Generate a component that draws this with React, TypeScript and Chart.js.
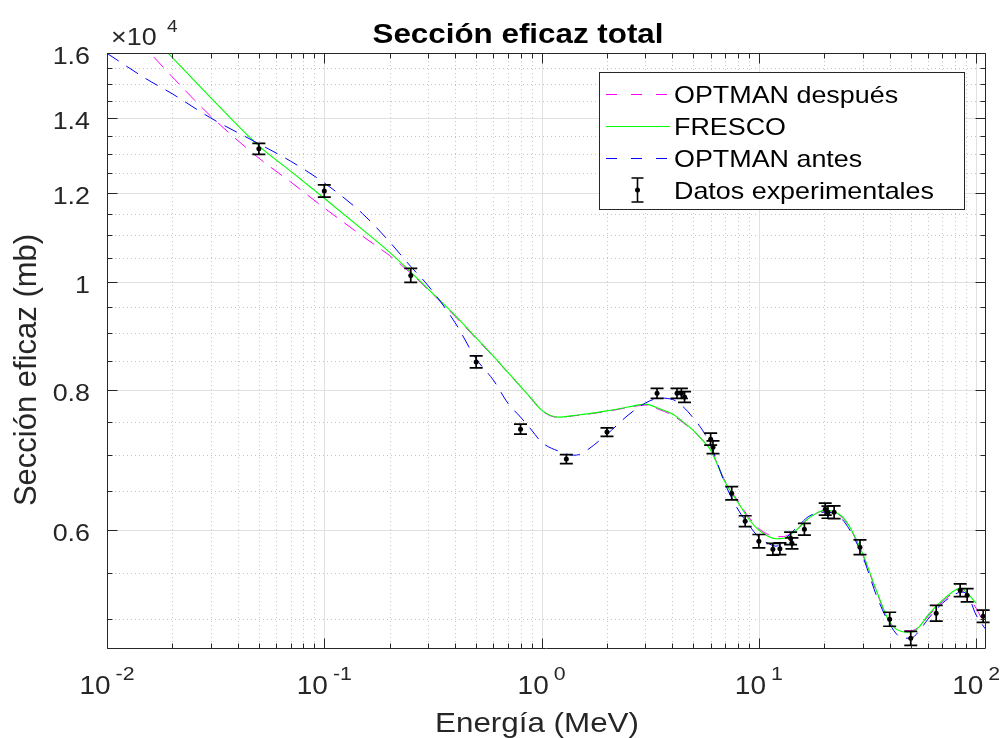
import React, { useEffect, useRef } from "react";
import { Chart, registerables } from "chart.js";

Chart.register(...registerables);

// ---------------- data ----------------
const energyModel = [
  0.01, 0.015, 0.02, 0.03, 0.05, 0.07, 0.1, 0.15, 0.2, 0.25, 0.3, 0.4, 0.5, 0.6, 0.7, 0.8, 0.9, 1.0, 1.2, 1.4,
  1.5, 2, 2.5, 3, 3.5, 4, 4.5, 5, 5.5, 6, 7, 8, 9, 10, 11, 12, 13, 15, 17, 20, 22, 25, 30, 35, 40, 45, 50, 55,
  60, 70, 80, 85, 90, 100, 110,
];

const optmanDespues = [
  17610, 16175, 15230, 14054, 12890, 12275, 11636, 10979, 10550, 10176, 9840, 9310, 8895, 8570, 8295, 8060, 7855,
  7672, 7565, 7590, 7600, 7660, 7720, 7760, 7685, 7600, 7480, 7360, 7220, 7080, 6635, 6375, 6160, 6020, 5948,
  5920, 5922, 6020, 6150, 6243, 6228, 6115, 5710, 5270, 4970, 4885, 4880, 4925, 5025, 5180, 5285, 5300, 5262,
  5110, 4930,
];

const fresco = [
  18200, 16800, 15850, 14600, 13220, 12550, 11870, 11130, 10620, 10200, 9855, 9330, 8910, 8580, 8300, 8065, 7859,
  7680, 7570, 7593, 7606, 7668, 7729, 7775, 7700, 7618, 7492, 7364, 7220, 7073, 6622, 6356, 6137, 6000, 5926,
  5896, 5902, 6012, 6150, 6252, 6237, 6125, 5721, 5282, 4966, 4875, 4864, 4925, 5038, 5196, 5304, 5326, 5282,
  5164, null,
];

const optmanAntes = [
  15990, 15190, 14710, 14000, 13276, 12810, 12250, 11500, 10850, 10316, 9922, 9192, 8533, 8168, 7790, 7570, 7370,
  7190, 7058, 7000, 7014, 7309, 7600, 7790, 7871, 7850, 7727, 7552, 7370, 7146, 6596, 6265, 6062, 5914, 5842,
  5806, 5878, 6037, 6174, 6226, 6212, 6087, 5688, 5228, 4947, 4815, 4805, 4885, 4997, 5164, 5260, 5282, 5271,
  5040, 4900,
];

const expEnergy = [
  0.05, 0.1, 0.25, 0.5, 0.8, 1.3, 2.0, 3.4, 4.2, 4.4, 4.55, 6.0, 6.15, 7.5, 8.65, 10.0, 11.6, 12.5, 14.0, 14.2,
  16.2, 20.2, 20.8, 22.2, 29.2, 40, 50, 65.5, 84.4, 90.9, 107.7,
];
const expValue = [
  13140, 12050, 10130, 8480, 7385, 6945, 7340, 7950, 7950, 7950, 7890, 7235, 7116, 6474, 6112, 5866, 5770, 5776,
  5900, 5840, 6012, 6265, 6226, 6226, 5794, 4997, 4805, 5059, 5304, 5249, 5028,
];
const expError = [
  150, 150, 145, 105, 76, 64, 63, 82, 82, 82, 86, 90, 92, 89, 69, 81, 69, 69, 75, 65, 72, 77, 77, 81, 87, 72, 69,
  81, 69, 72, 64,
];

// ---------------- axes / labels ----------------
const xDecades = [0.01, 0.1, 1, 10, 100];
const xDecadeExponents = ["-2", "-1", "0", "1", "2"];
const xMinorFactors = [2, 3, 4, 5, 6, 7, 8, 9];
const yMajorTicks = [6000, 8000, 10000, 12000, 14000, 16000];
const yMajorLabels = ["0.6", "0.8", "1", "1.2", "1.4", "1.6"];
const yMinorTicks = [
  5000, 5500, 6500, 7000, 7500, 8500, 9000, 9500, 10500, 11000, 11500, 12500, 13000, 13500, 14500, 15000, 15500,
];
const X_MIN = 0.01;
const X_MAX = 111;
const Y_MIN = 4700;
const Y_MAX = 16000;

const seriesLabels = ["OPTMAN después", "FRESCO", "OPTMAN antes", "Datos experimentales"];
const seriesColors = ["#ff00ff", "#00ff00", "#0000ff", "#000000"];
const TITLE = "Sección eficaz total";
const XLABEL = "Energía (MeV)";
const YLABEL = "Sección eficaz (mb)";
const Y_EXP_BASE = "×10";
const Y_EXP = "4";

const FONT = '"Liberation Sans", Arial, Helvetica, sans-serif';
const SX = 1.12;
const AXIS_COLOR = "#262626";
const DASH = [14, 9];

function drawText(
  ctx: CanvasRenderingContext2D,
  s: string,
  x: number,
  y: number,
  size: number,
  opts: { align?: CanvasTextAlign; weight?: string; color?: string; rot?: number; sx?: number } = {}
) {
  ctx.save();
  ctx.translate(x, y);
  if (opts.rot) ctx.rotate(opts.rot);
  ctx.scale(opts.sx ?? SX, 1);
  ctx.font = `${opts.weight || "normal"} ${size}px ${FONT}`;
  ctx.fillStyle = opts.color || AXIS_COLOR;
  ctx.textAlign = opts.align || "left";
  ctx.textBaseline = "alphabetic";
  ctx.fillText(s, 0, 0);
  ctx.restore();
}

function measure(ctx: CanvasRenderingContext2D, s: string, size: number, weight = "normal") {
  ctx.save();
  ctx.font = `${weight} ${size}px ${FONT}`;
  const w = ctx.measureText(s).width * SX;
  ctx.restore();
  return w;
}

const gridPlugin = {
  id: "matlabGrid",
  beforeDatasetsDraw(chart: any) {
    const { ctx, chartArea: a, scales } = chart;
    const xs = scales.x;
    const ys = scales.y;
    ctx.save();
    ctx.lineWidth = 1;
    // minor dotted grid
    ctx.strokeStyle = "#c4c4c4";
    ctx.setLineDash([1, 3]);
    ctx.beginPath();
    for (const d of xDecades) {
      for (const f of xMinorFactors) {
        const v = d * f;
        if (v >= X_MAX) continue;
        const px = Math.round(xs.getPixelForValue(v)) + 0.5;
        ctx.moveTo(px, a.top);
        ctx.lineTo(px, a.bottom);
      }
    }
    for (const v of yMinorTicks) {
      const py = Math.round(ys.getPixelForValue(v)) + 0.5;
      ctx.moveTo(a.left, py);
      ctx.lineTo(a.right, py);
    }
    ctx.stroke();
    // major solid grid
    ctx.setLineDash([]);
    ctx.strokeStyle = "#e1e1e1";
    ctx.beginPath();
    for (const d of xDecades) {
      const px = Math.round(xs.getPixelForValue(d)) + 0.5;
      ctx.moveTo(px, a.top);
      ctx.lineTo(px, a.bottom);
    }
    for (const v of yMajorTicks) {
      const py = Math.round(ys.getPixelForValue(v)) + 0.5;
      ctx.moveTo(a.left, py);
      ctx.lineTo(a.right, py);
    }
    ctx.stroke();
    ctx.restore();
  },
};

const overlayPlugin = {
  id: "matlabOverlay",
  afterDatasetsDraw(chart: any) {
    const { ctx, chartArea: a, scales } = chart;
    const xs = scales.x;
    const ys = scales.y;
    ctx.save();
    ctx.beginPath();
    ctx.rect(a.left - 8, a.top - 8, a.right - a.left + 16, a.bottom - a.top + 16);
    ctx.clip();
    ctx.strokeStyle = "#000";
    ctx.lineWidth = 1.7;
    ctx.beginPath();
    expEnergy.forEach((e, i) => {
      const px = xs.getPixelForValue(e);
      const p1 = ys.getPixelForValue(expValue[i] + expError[i]);
      const p2 = ys.getPixelForValue(expValue[i] - expError[i]);
      ctx.moveTo(px, p1);
      ctx.lineTo(px, p2);
      ctx.moveTo(px - 6.5, p1);
      ctx.lineTo(px + 6.5, p1);
      ctx.moveTo(px - 6.5, p2);
      ctx.lineTo(px + 6.5, p2);
    });
    ctx.stroke();
    ctx.restore();
  },
  afterDraw(chart: any) {
    const { ctx, chartArea: a, scales } = chart;
    const xs = scales.x;
    const ys = scales.y;
    ctx.save();
    // axes box
    ctx.strokeStyle = AXIS_COLOR;
    ctx.lineWidth = 1;
    const L = Math.round(a.left) + 0.5;
    const R = Math.round(a.right) - 0.5;
    const T = Math.round(a.top) + 0.5;
    const B = Math.round(a.bottom) - 0.5;
    ctx.beginPath();
    ctx.rect(L, T, R - L, B - T);
    const xTick = (v: number, len: number) => {
      const px = Math.round(xs.getPixelForValue(v)) + 0.5;
      ctx.moveTo(px, B);
      ctx.lineTo(px, B - len);
      ctx.moveTo(px, T);
      ctx.lineTo(px, T + len);
    };
    for (const d of xDecades) {
      xTick(d, 10);
      for (const f of xMinorFactors) if (d * f < X_MAX) xTick(d * f, 5);
    }
    const yTick = (v: number, len: number) => {
      const py = Math.round(ys.getPixelForValue(v)) + 0.5;
      ctx.moveTo(L, py);
      ctx.lineTo(L + len, py);
      ctx.moveTo(R, py);
      ctx.lineTo(R - len, py);
    };
    yMajorTicks.forEach((v) => yTick(v, 10));
    yMinorTicks.forEach((v) => yTick(v, 5));
    ctx.stroke();

    // y tick labels
    yMajorTicks.forEach((v, i) => {
      const py = ys.getPixelForValue(v);
      drawText(ctx, yMajorLabels[i], a.left - 17, py + 11, 24, { align: "right" });
    });
    // exponent marker
    drawText(ctx, Y_EXP_BASE, a.left + 4, 45, 24, { align: "left" });
    drawText(ctx, Y_EXP, a.left + 60, 32, 17, { align: "left" });

    // x tick labels: 10^e
    xDecades.forEach((d, i) => {
      const px = xs.getPixelForValue(d);
      const wb = measure(ctx, "10", 25);
      const we = measure(ctx, xDecadeExponents[i], 19);
      const gap = 5;
      const start = px - (wb + gap + we) / 2;
      drawText(ctx, "10", start, 694, 25);
      drawText(ctx, xDecadeExponents[i], start + wb + gap, 680, 19);
    });

    // axis labels
    drawText(ctx, XLABEL, 537, 732, 28, { align: "center" });
    drawText(ctx, YLABEL, 36, 370, 31, { align: "center", rot: -Math.PI / 2, sx: 1 });
    // title
    drawText(ctx, TITLE, 518, 43, 28, { align: "center", weight: "bold", color: "#000" });

    // legend
    const lx0 = 599.5;
    const ly0 = 72.5;
    const lx1 = 964.5;
    const ly1 = 209.5;
    ctx.fillStyle = "#fff";
    ctx.fillRect(lx0, ly0, lx1 - lx0, ly1 - ly0);
    ctx.strokeStyle = AXIS_COLOR;
    ctx.lineWidth = 1;
    ctx.strokeRect(lx0, ly0, lx1 - lx0, ly1 - ly0);
    const rows = [94, 126, 158, 190];
    const dashed = [true, false, true];
    for (let i = 0; i < 3; i++) {
      ctx.beginPath();
      ctx.strokeStyle = seriesColors[i];
      ctx.lineWidth = 1;
      ctx.setLineDash(dashed[i] ? [11, 14] : []);
      ctx.moveTo(606, rows[i] + 0.5);
      ctx.lineTo(670, rows[i] + 0.5);
      ctx.stroke();
    }
    ctx.setLineDash([]);
    const ex = 637.5;
    const ey = rows[3];
    ctx.strokeStyle = "#000";
    ctx.lineWidth = 1.6;
    ctx.beginPath();
    ctx.moveTo(ex, ey - 12);
    ctx.lineTo(ex, ey + 12);
    ctx.moveTo(ex - 6, ey - 12);
    ctx.lineTo(ex + 6, ey - 12);
    ctx.moveTo(ex - 6, ey + 12);
    ctx.lineTo(ex + 6, ey + 12);
    ctx.stroke();
    ctx.fillStyle = "#000";
    ctx.beginPath();
    ctx.arc(ex, ey, 2.5, 0, Math.PI * 2);
    ctx.fill();
    rows.forEach((ry, i) => drawText(ctx, seriesLabels[i], 674, ry + 8.6, 24, { color: "#000" }));
    ctx.restore();
  },
};

function toPoints(xs: number[], ys: (number | null)[]) {
  const out: { x: number; y: number }[] = [];
  xs.forEach((x, i) => {
    const y = ys[i];
    if (y !== null && y !== undefined) out.push({ x, y });
  });
  return out;
}

export default function App() {
  const canvasRef = useRef<HTMLCanvasElement | null>(null);

  useEffect(() => {
    if (!canvasRef.current) return;
    const chart = new Chart(canvasRef.current, {
      type: "scatter",
      data: {
        datasets: [
          {
            label: seriesLabels[0],
            data: toPoints(energyModel, optmanDespues),
            showLine: true,
            borderColor: seriesColors[0],
            borderWidth: 1,
            borderDash: DASH,
            pointRadius: 0,
            cubicInterpolationMode: "monotone",
            order: 3,
          },
          {
            label: seriesLabels[1],
            data: toPoints(energyModel, fresco),
            showLine: true,
            borderColor: seriesColors[1],
            borderWidth: 1.1,
            pointRadius: 0,
            cubicInterpolationMode: "monotone",
            order: 2,
          },
          {
            label: seriesLabels[2],
            data: toPoints(energyModel, optmanAntes),
            showLine: true,
            borderColor: seriesColors[2],
            borderWidth: 1,
            borderDash: DASH,
            pointRadius: 0,
            cubicInterpolationMode: "monotone",
            order: 1,
          },
          {
            label: seriesLabels[3],
            data: toPoints(expEnergy, expValue),
            showLine: false,
            pointRadius: 2.5,
            pointBorderWidth: 0,
            backgroundColor: seriesColors[3],
            borderColor: seriesColors[3],
            order: 0,
          },
        ],
      },
      options: {
        responsive: false,
        animation: false,
        devicePixelRatio: 1,
        layout: { padding: { left: 107, right: 16, top: 53, bottom: 89 } },
        scales: {
          x: { type: "logarithmic", min: X_MIN, max: X_MAX, display: false },
          y: { type: "logarithmic", min: Y_MIN, max: Y_MAX, display: false },
        },
        plugins: { legend: { display: false }, tooltip: { enabled: false } },
      },
      plugins: [gridPlugin, overlayPlugin],
    } as any);
    return () => chart.destroy();
  }, []);

  return (
    <div style={{ position: "absolute", left: 0, top: 0, width: 1002, height: 738, background: "#fff" }}>
      <canvas ref={canvasRef} width={1002} height={738} style={{ width: 1002, height: 738, display: "block" }} />
    </div>
  );
}
